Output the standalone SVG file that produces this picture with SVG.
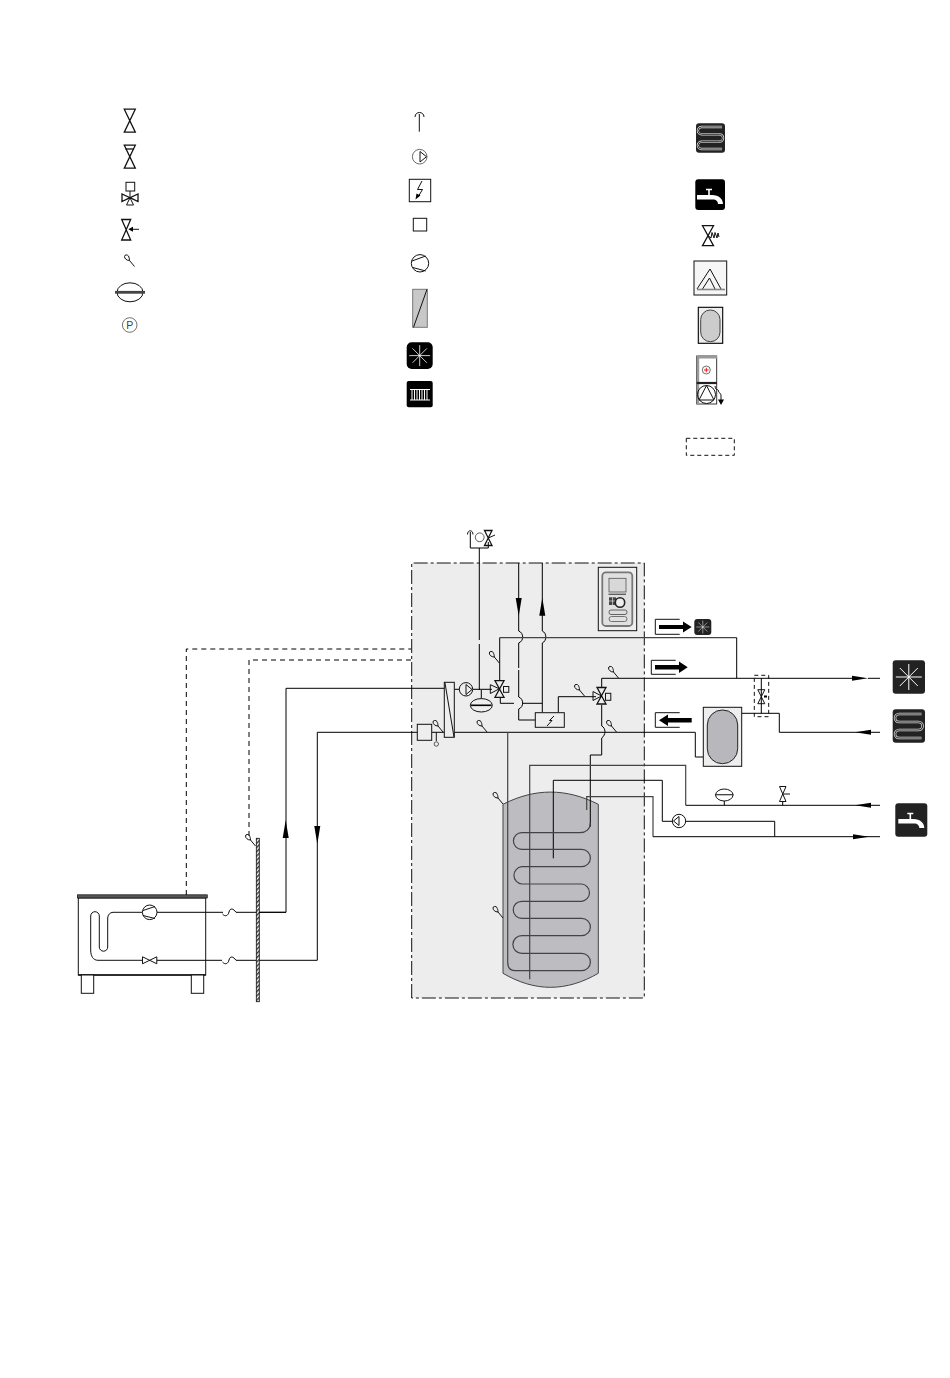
<svg xmlns="http://www.w3.org/2000/svg" xmlns:xlink="http://www.w3.org/1999/xlink" width="950" height="1378" viewBox="0 0 950 1378">
<style>
.l{fill:none;stroke:#000;stroke-width:1}
.g{fill:none;stroke:#444;stroke-width:1.2}
.n{fill:none;stroke:#111;stroke-width:1}
.t{fill:none;stroke:#111;stroke-width:1.3}
.w{fill:#fff;stroke:#111;stroke-width:1}
.f{fill:#000;stroke:none}
.ic{fill:#222}
.wl{fill:none;stroke:#fff;stroke-width:1}
.d{fill:none;stroke:#000;stroke-width:1;stroke-dasharray:5 4}
</style>
<defs>
<pattern id="hatch" width="3" height="3" patternUnits="userSpaceOnUse" patternTransform="rotate(45)"><rect width="3" height="3" fill="#fff"/><rect width="1.5" height="3" fill="#333"/></pattern>
<g id="valve"><path class="t" d="M-5.5 -11.5H5.5L-5.5 11.5H5.5Z"/></g>
<g id="sensor"><path class="n" d="M7 8L2 2C-1 2 -3 0 -3 -2C-3 -4 0 -4 1 -2.5C1.5 -1 2 0 2 2"/></g>
<g id="vsm"><path class="n" d="M-3.5 -7H3.5L-3.5 7H3.5Z"/></g>
<g id="arrowD"><path class="f" d="M-3 0H3L0 18Z"/></g>
<g id="arrowU"><path class="f" d="M-3 0H3L0 -18Z"/></g>
<g id="arrowR"><path class="f" d="M0 -2.5L16 0L0 2.5Z"/></g>
<g id="arrowL"><path class="f" d="M16 -2.5L0 0L16 2.5Z"/></g>
<g id="star"><path d="M0 -13V13M-13 0H13M-9 -9L9 9M-9 9L9 -9" class="wl"/></g>
<g id="coil"><path d="M11 -10.5H-8.500A3.500 3.500 0 0 0 -8.500 -3.500H8.500A3.500 3.500 0 0 1 8.500 3.500H-8.500A3.500 3.500 0 0 0 -8.500 10.500H11" fill="none" stroke="#ddd" stroke-width="2.2"/><path d="M11 -10.500H-8.500A3.500 3.500 0 0 0 -8.500 -3.500H8.500A3.500 3.500 0 0 1 8.500 3.500H-8.500A3.500 3.500 0 0 0 -8.500 10.500H11" fill="none" stroke="#222" stroke-width=".9"/></g>
<g id="tap"><path d="M-13 -1H2C9 -1 13 3 13 8H8C8 5.500 6 3.500 3 3.500H-13Z" fill="#fff"/><path d="M-1 -1V-6M-4 -6.500H2" stroke="#fff" stroke-width="1.600" fill="none"/></g>
</defs>
<rect width="950" height="1378" fill="#fff"/>

<g id="legend-valve1"><use xlink:href="#valve" x="129.800" y="120.700"/></g>
<g id="legend-valve2"><use xlink:href="#valve" x="129.800" y="156.700"/><path class="t" d="M125.500 149H134"/></g>
<g id="legend-valve3"><rect class="n" x="126" y="182.300" width="8.700" height="8.700"/><path class="n" d="M130 191V197.700"/><path class="t" d="M122 194V201.500L130 197.700ZM138 194V201.500L130 197.700Z"/><path class="n" d="M130 197.700L126.500 205H133.500Z"/></g>
<g id="legend-valve4"><path class="t" d="M121.700 219.500H130.700L121.700 240H130.700Z"/><path class="n" d="M139 229.300H130"/><path class="f" d="M128.300 229.300L133 226.800V231.800Z"/></g>
<g id="legend-sensor"><use xlink:href="#sensor" x="127.500" y="258.500"/></g>
<g id="legend-vessel"><ellipse class="n" cx="130" cy="292.300" rx="13" ry="9.500"/><path d="M115 292.300H145" stroke="#444" stroke-width="2.800"/></g>
<g id="legend-pressure"><circle cx="129.700" cy="325" r="7.300" fill="#fff" stroke="#333" stroke-width=".7"/><text x="129.700" y="328.800" font-family="Liberation Sans, sans-serif" font-size="10.500" text-anchor="middle" fill="#444">P</text></g>

<g id="legend-vent"><path class="n" d="M419.300 131.700V114M415 117C415 111 424 111 424 117"/></g>
<g id="legend-pump"><circle cx="419.700" cy="156.700" r="7.300" fill="#fff" stroke="#444" stroke-width=".8"/><path class="n" d="M420 151.500L426.500 156.700L420 162Z"/></g>
<g id="legend-heater"><rect class="w" x="409.300" y="179.300" width="21.400" height="22.400"/><path class="n" d="M422 181L417.500 189.500H422.500L418 197"/><path class="f" d="M415.500 199.500L416.500 193.500L420.500 195.500Z"/></g>
<g id="legend-square"><rect class="w" x="413.300" y="218.300" width="13.400" height="12.700"/></g>
<g id="legend-compressor"><circle class="w" cx="420" cy="263.300" r="8.700"/><path class="n" d="M412 261L425.700 256M412 267.300L425.700 271"/></g>
<g id="legend-exchanger"><rect x="412.700" y="289.300" width="14.600" height="38" fill="#c8c8c8" stroke="#777" stroke-width="1"/><path class="n" d="M413.500 327.300L427 289.300"/></g>
<g id="legend-cool"><rect x="406.700" y="342.300" width="26" height="26.700" rx="5" fill="#000"/><use xlink:href="#star" transform="translate(419.700 355.600) scale(.8)"/></g>
<g id="legend-radiator"><rect x="406.700" y="381" width="26" height="26.300" rx="2" fill="#000"/><path d="M410 389.500H430M410 400H430M412 389.500V400M414.500 389.500V400M417 389.500V400M419.500 389.500V400M422 389.500V400M424.500 389.500V400M427 389.500V400" stroke="#fff" stroke-width="1" fill="none"/></g>

<g id="legend-floor"><rect class="ic" x="696" y="123.300" width="29" height="29.400" rx="3"/><use xlink:href="#coil" transform="translate(710.500 138) scale(1.05)"/></g>
<g id="legend-tap"><rect x="695.300" y="179.300" width="29.700" height="30.700" rx="3" fill="#000"/><use xlink:href="#tap" transform="translate(710 196)"/></g>
<g id="legend-safety"><path class="t" d="M702.500 225.700H713.500L702.500 245.700H713.500Z"/><path class="n" d="M708 235.500L711 238L712 232.500L714 238L715 232.500L717 238L718 233L719 237"/></g>
<g id="legend-solar"><rect x="694" y="261" width="32.700" height="34" fill="#f6f6f6" stroke="#111" stroke-width="1"/><path class="n" d="M697 289L710 269L721 289M702.500 289L709.500 278L715 289"/><path d="M697 289.500H725" stroke="#888" stroke-width="1.600"/></g>
<g id="legend-tank"><rect x="698.300" y="307.300" width="24.400" height="36" fill="#eee" stroke="#000" stroke-width="1.100"/><rect x="700.700" y="310" width="19.300" height="31.700" rx="9.600" fill="#ccc" stroke="#444" stroke-width="1"/></g>
<g id="legend-unit"><rect x="696.700" y="356" width="20" height="48" fill="#fff" stroke="#222" stroke-width=".9"/><rect x="697" y="356" width="20" height="2.500" fill="#999"/><rect x="696.700" y="356" width="2.500" height="48" fill="#999"/><circle cx="706.300" cy="370" r="4" fill="#fff" stroke="#333" stroke-width=".7"/><path d="M704 370H708.600M706.300 367.700V372.300" stroke="#e00" stroke-width=".9"/><path d="M696.700 383H717" stroke="#222" stroke-width="2.200"/><circle class="n" cx="706.500" cy="394.500" r="9"/><path class="n" d="M699 400L706.500 385.500L714 400Z"/><path class="n" d="M715 386C716 392 718 388 718.500 391C719 394 721 392 721 396V402" stroke-width="1.200"/><path class="f" d="M721 405L718 399.500H724Z"/></g>
<g id="legend-dashed"><rect class="n" x="686.300" y="438.300" width="48" height="17" stroke-dasharray="4 3"/></g>

<g id="module"><rect x="411.700" y="563" width="232.600" height="435" fill="#ededed"/><path d="M411.700 998V563H644.300V998Z" fill="none" stroke="#111" stroke-width="1" stroke-dasharray="14 3 3 3"/></g>

<g id="tank"><path d="M503 804.300C535 788 566 788 598.300 804.300V973.300C566 992 535 992 503 973.300Z" fill="#bdbdc1" stroke="#444" stroke-width="1"/></g>

<g id="connectors">
<path class="l" d="M479.300 548V640M479.300 644V690"/>
<path class="l" d="M470.300 532V548H488.300V542"/>
<path class="l" d="M518.700 563V631C524 633 524 641 518.700 643V668M518.700 670V697C524 699 524 707 518.700 709V720H535.300"/>
<path class="l" d="M542.300 563V631C547 633 547 641 542.300 643V712.700"/>
<path class="g" d="M499.700 637.700H736.700"/>
<path class="l" d="M499.700 637.700V680M736.700 637.700V678.300"/>
<path class="l" d="M286 688.300H444M286 688.300V912.300H236"/>
<path class="l" d="M454.300 689.300H460M472.700 689.300H492"/>
<path class="l" d="M481.300 690V699"/>
<path class="l" d="M500.300 697V703.300H514M523 703.300H542.300"/>
<path class="l" d="M558.300 712.700V696.700H596"/>
<path class="l" d="M601.700 687V678.300H852"/>
<path class="l" d="M317.300 960.300V732.300H417.300M431.700 732.300H444M454.300 732.300H695.300V757H703.300"/>
<path class="l" d="M601.700 705V726C606 728 606 735 601.700 738V755H590.300V826.700"/>
<path class="l" d="M741.700 713.300H779.300V732.300H880"/>
<path class="l" d="M868 678.300H880"/>
<path class="l" d="M761.300 678.300V713.300"/>
<path class="g" d="M529.700 979.300V765.300H685.700V805.300"/>
<path class="l" d="M685.700 805.300H880"/>
<path class="l" d="M724.300 801V805.300M782.700 801V805.300"/>
<path class="l" d="M553.300 858.300V780.300H662.300V821.300H672.300M686 821.300H774.700V836.700"/>
<path class="g" d="M586.700 810V796.700H653V836.700"/>
<path class="l" d="M653 836.700H880"/>
<path class="g" d="M507.700 732.300V962C507.700 967 510 970.700 515 970.700H581.700A8.700 8.700 0 0 0 581.700 953.300H521.700A8.700 8.700 0 0 1 521.700 935.700H581.700A8.700 8.700 0 0 0 581.700 918.300H521.700A8.500 8.500 0 0 1 521.700 901.300H581.700A8.700 8.700 0 0 0 581.700 884H521.700A8.700 8.700 0 0 1 521.700 866.700H581.700A8.700 8.700 0 0 0 581.700 849.300H521.700A8.300 8.300 0 0 1 521.700 832.700H580C586 832.700 590.300 829 590.300 823"/>
<path class="d" d="M186.300 895V649H411"/>
<path class="d" d="M249 836V660H411"/>
<path class="l" d="M157 912.300H223"/>
<path class="l" d="M222.500 914C225 917 228 916 229 912C230 908 233 908 236 912.300"/>
<path class="l" d="M157 960.300H222"/>
<path class="l" d="M222.500 962C225 965 228 964 229 960C230 956 233 956 236 960.300H317.300"/>
<use xlink:href="#arrowD" x="518.700" y="598"/>
<use xlink:href="#arrowU" x="542.300" y="615.700"/>
<use xlink:href="#arrowU" x="285.700" y="838"/>
<use xlink:href="#arrowD" x="317.300" y="826"/>
<use xlink:href="#arrowR" x="852" y="678.300"/>
<use xlink:href="#arrowL" x="855" y="732.300"/>
<use xlink:href="#arrowL" x="855" y="805.300"/>
<use xlink:href="#arrowR" x="853" y="836.700"/>
</g>

<g id="top-group"><path class="n" d="M467.500 534.500C467.500 529.500 473 529.500 473 534.500"/><circle cx="479.700" cy="537.300" r="4.400" fill="#fff" stroke="#333" stroke-width=".8"/><path class="t" d="M484.500 530.500H492L484.500 545.500H492Z"/><path class="n" d="M488.300 538L495 535"/></g>
<g id="control-panel"><rect x="598.300" y="567.300" width="38.400" height="63.400" fill="#eee" stroke="#111" stroke-width="1"/><rect x="602.300" y="572.300" width="30" height="53.700" rx="3.500" fill="#e0e0e0" stroke="#777" stroke-width="1.800"/><rect x="609" y="578.300" width="17" height="13.700" fill="#d8d8d8" stroke="#555" stroke-width=".8"/><path d="M608.500 594.300H626" stroke="#555" stroke-width="1.300"/><rect x="609" y="597.300" width="7" height="7.700" fill="#444"/><path d="M612.500 597.300V605M609 601H616" stroke="#ddd" stroke-width=".7"/><circle cx="620" cy="602.500" r="4.700" fill="#eee" stroke="#222" stroke-width="1.600"/><rect x="609" y="610" width="18" height="4.500" rx="2" fill="#ddd" stroke="#555" stroke-width=".9"/><rect x="609" y="616.500" width="18" height="5" rx="2.500" fill="none" stroke="#555" stroke-width=".8"/></g>

<g id="hp-exchanger"><rect x="444.300" y="682.300" width="10" height="55" fill="#eee" stroke="#111" stroke-width="1"/><path class="n" d="M445 683L454 737"/></g>
<g id="pump1"><circle cx="466" cy="689.300" r="6.700" fill="#eee" stroke="#111" stroke-width="1"/><path class="n" d="M466 684.500L472 689.500L466 694.500Z"/></g>
<g id="vessel1"><ellipse cx="481.300" cy="705.300" rx="11" ry="6.700" fill="#eee" stroke="#111" stroke-width="1"/><path d="M471 705.300H491.500" stroke="#000" stroke-width="1.600"/></g>
<g id="valve-a"><path class="t" d="M495 680.700H504L495 697.300H504Z"/><path class="n" d="M499.300 688.800L490.300 684.700V693.500Z"/><rect class="n" x="503.500" y="686.500" width="5.300" height="5.800"/></g>
<g id="valve-b"><path class="t" d="M597 687.500H606L597 704H606Z"/><path class="n" d="M601.500 696L593 691.500V700.500Z"/><rect class="n" x="605.500" y="693.300" width="5.300" height="7"/></g>
<g id="heater"><rect x="535.300" y="712.700" width="29" height="14.600" fill="#eee" stroke="#111" stroke-width="1"/><path class="n" d="M554 716L549.500 720.500H552L547 726"/></g>
<g id="filter"><rect x="417.300" y="724.300" width="14.400" height="16" fill="#eee" stroke="#111" stroke-width="1"/><path class="n" d="M436.300 732.300V741"/><circle cx="436.300" cy="744" r="2.200" fill="none" stroke="#333" stroke-width=".8"/></g>
<g id="sensors">
<use xlink:href="#sensor" x="436" y="724"/>
<use xlink:href="#sensor" x="480" y="724"/>
<use xlink:href="#sensor" x="492.300" y="655"/>
<use xlink:href="#sensor" x="577.500" y="688"/>
<use xlink:href="#sensor" x="611.500" y="670"/>
<use xlink:href="#sensor" x="609.500" y="724"/>
<use xlink:href="#sensor" x="496" y="796"/>
<use xlink:href="#sensor" x="496" y="910"/>
<use xlink:href="#sensor" x="248.500" y="838"/>
</g>

<g id="flow-cool"><path class="n" d="M679.700 619.300H655.300V634.300H679.700" /><path class="f" d="M659 625H683V621.500L691.700 627L683 632.500V629H659Z"/><rect class="ic" x="694.300" y="619" width="17" height="16" rx="3"/><use xlink:href="#star" transform="translate(702.800 627) scale(.5)"/></g>
<g id="flow-heat"><path class="n" d="M675.700 660.300H651.300V674.300H675.700"/><path class="f" d="M655 665H679V661.500L687.700 667.300L679 673V669.500H655Z"/></g>
<g id="flow-return"><path class="n" d="M679.700 712.700H655.300V727.300H679.700"/><path class="f" d="M691.700 718V722.500H668V726L659 720.300L668 714.500V718Z"/></g>
<g id="buffer-tank"><rect x="703.300" y="707.300" width="38.400" height="59" fill="#eee" stroke="#111" stroke-width="1"/><rect x="707.300" y="710" width="30.400" height="53.700" rx="15" fill="#b8b8bc" stroke="#222" stroke-width="1"/></g>
<g id="bypass"><rect class="n" x="754.300" y="675.300" width="14.400" height="41.400" stroke-dasharray="4 3"/><use xlink:href="#vsm" x="761.300" y="696.700"/><path class="f" d="M764 695.500H767V697.500H764Z"/></g>
<g id="vessel2"><ellipse cx="724.300" cy="795" rx="8.700" ry="6" fill="#fff" stroke="#111" stroke-width="1"/><path d="M715 794.700H733.500" stroke="#333" stroke-width="1.200"/></g>
<g id="valve-c"><path class="n" d="M779.500 786.500H786L779.500 801.500H786Z"/><path class="n" d="M783 794H790"/></g>
<g id="pump2"><circle cx="679" cy="821" r="6.700" fill="#fff" stroke="#111" stroke-width="1"/><path class="n" d="M679 816.500L673.500 821L679 825.500Z"/></g>
<g id="icon-cool"><rect class="ic" x="892.700" y="660.300" width="32.300" height="33.400" rx="3"/><use xlink:href="#star" x="908.800" y="677"/></g>
<g id="icon-floor"><rect class="ic" x="892.700" y="709.300" width="32.300" height="33.400" rx="3"/><use xlink:href="#coil" transform="translate(908.800 726) scale(1.15)"/></g>
<g id="icon-tap"><rect class="ic" x="895.300" y="803.300" width="32" height="33.400" rx="3"/><use xlink:href="#tap" transform="translate(911.300 820)"/></g>

<g id="outdoor-unit"><rect x="78.300" y="898" width="127.400" height="77" fill="none" stroke="#111" stroke-width="1"/><path d="M78.300 975H205.700" stroke="#111" stroke-width="1.600"/><rect x="77.300" y="894.800" width="130" height="3.200" fill="#555" stroke="#000" stroke-width=".6"/><rect x="81.300" y="975" width="12.400" height="18.300" fill="#fff" stroke="#111" stroke-width="1"/><rect x="191.300" y="975" width="12.400" height="18.300" fill="#fff" stroke="#111" stroke-width="1"/>
<path class="n" d="M142.500 912.300H113C110 912.300 107.700 915 107.700 918V947A4 4 0 0 1 99.300 947V916A4 4 0 0 0 90.700 916V950C90.700 956 93 960.300 98 960.300H142.500"/>
<circle class="w" cx="149.700" cy="912.300" r="7.300"/><path class="n" d="M143 910.500L155 906.500M143 915.500L155 918.500"/>
<path class="w" d="M142.500 956.800V963.800L156.800 956.800V963.800Z"/></g>
<g id="wall"><rect x="256.300" y="838.300" width="3" height="163.400" fill="url(#hatch)" stroke="#111" stroke-width=".8"/><path class="l" d="M259 912.300H286"/></g>
</svg>
